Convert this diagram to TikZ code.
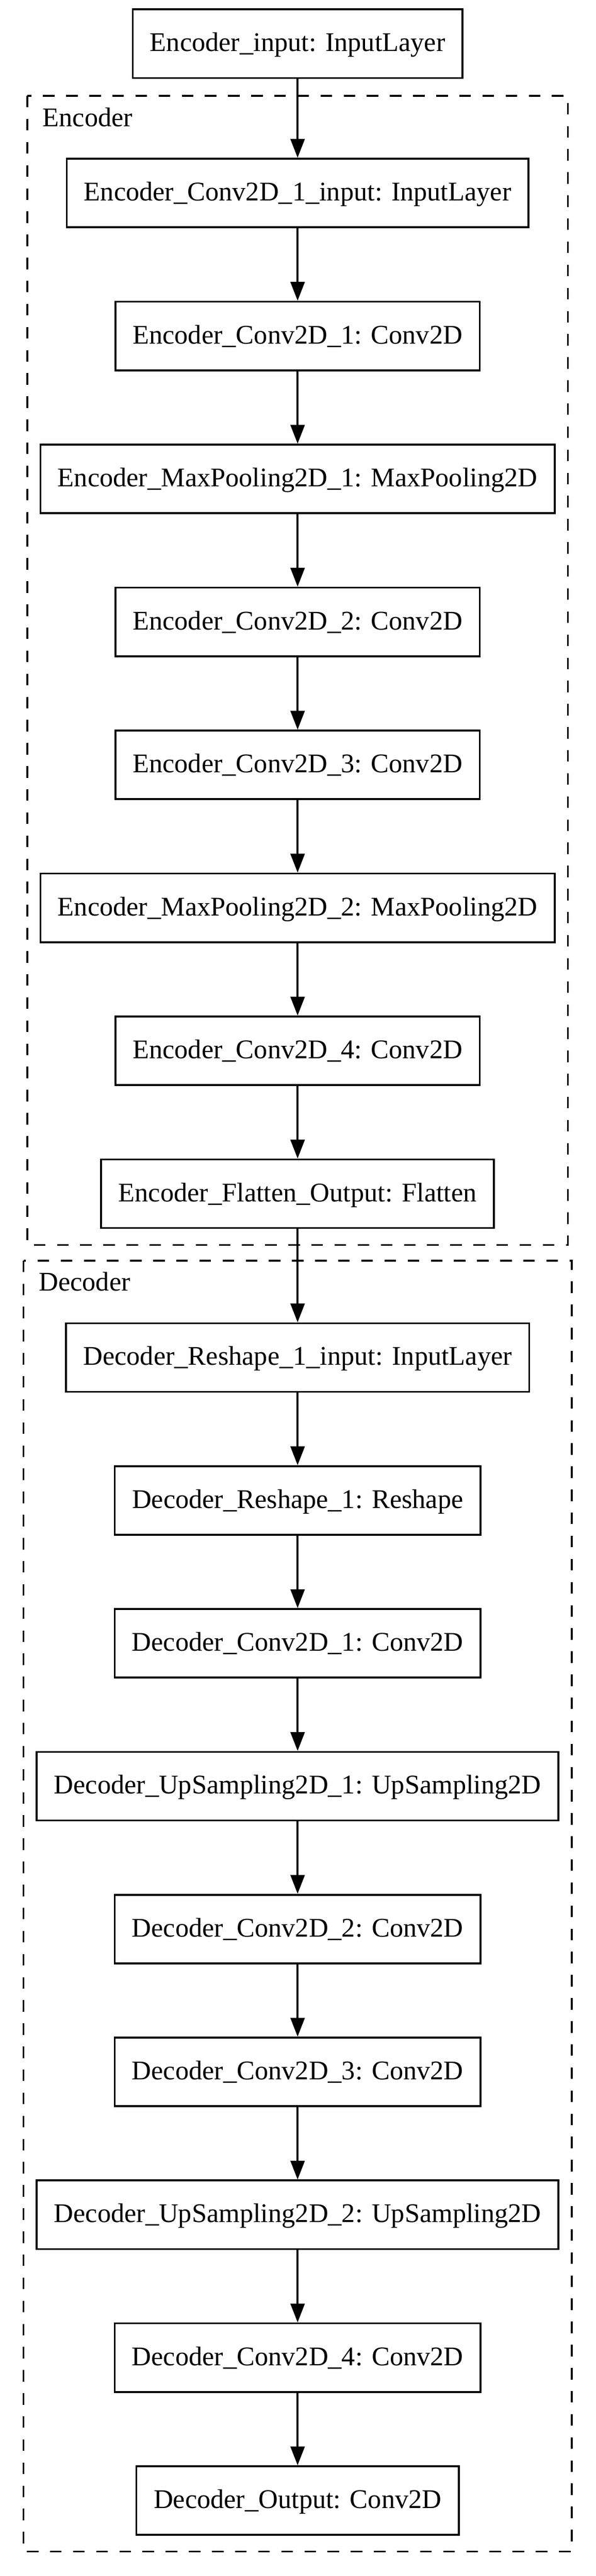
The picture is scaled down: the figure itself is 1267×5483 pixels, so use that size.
\documentclass[tikz,border=0pt]{standalone}
\usepackage{fontspec}
\setmainfont{Liberation Serif}
\usetikzlibrary{arrows.meta}
\tikzset{
  layerbox/.style={draw, line width=1pt, rectangle, minimum height=36.5pt,
    inner xsep=9.2pt, inner ysep=0pt, text height=11.2pt, text depth=3pt,
    font=\fontsize{14.35pt}{17pt}\selectfont},
  clusterbox/.style={draw, line width=1pt, dash pattern=on 6.15pt off 6.15pt},
  clusterlabel/.style={anchor=base west, inner sep=0pt,
    font=\fontsize{14.35pt}{17pt}\selectfont},
  flow/.style={line width=1pt, -{Triangle[length=10pt,width=7.5pt]}}
}
\begin{document}
\begin{tikzpicture}[x=0.25pt, y=-0.25pt]
\useasboundingbox (0,0) rectangle (1267,5483);
% clusters
\draw[clusterbox] (58,204) rectangle (1208,2650);
\node[clusterlabel] (enclabel) at (90,269) {Encoder};
\draw[clusterbox] (50,2683) rectangle (1216,5431);
\node[clusterlabel] (declabel) at (82,2747) {Decoder};
% nodes
\node[layerbox] (top) at (633,93) {Encoder\_input: InputLayer};
\foreach \i/\t in {
  0/Encoder\_Conv2D\_1\_input: InputLayer,
  1/Encoder\_Conv2D\_1: Conv2D,
  2/Encoder\_MaxPooling2D\_1: MaxPooling2D,
  3/Encoder\_Conv2D\_2: Conv2D,
  4/Encoder\_Conv2D\_3: Conv2D,
  5/Encoder\_MaxPooling2D\_2: MaxPooling2D,
  6/Encoder\_Conv2D\_4: Conv2D,
  7/Encoder\_Flatten\_Output: Flatten}
  \node[layerbox] (e\i) at (633,{410.8+304.3*\i}) {\t};
\foreach \i/\t in {
  0/Decoder\_Reshape\_1\_input: InputLayer,
  1/Decoder\_Reshape\_1: Reshape,
  2/Decoder\_Conv2D\_1: Conv2D,
  3/Decoder\_UpSampling2D\_1: UpSampling2D,
  4/Decoder\_Conv2D\_2: Conv2D,
  5/Decoder\_Conv2D\_3: Conv2D,
  6/Decoder\_UpSampling2D\_2: UpSampling2D,
  7/Decoder\_Conv2D\_4: Conv2D,
  8/Decoder\_Output: Conv2D}
  \node[layerbox] (d\i) at (633,{2889.5+304.1*\i}) {\t};
% edges
\draw[flow] (top) -- (e0);
\foreach \a/\b in {0/1,1/2,2/3,3/4,4/5,5/6,6/7}
  \draw[flow] (e\a) -- (e\b);
\draw[flow] (e7) -- (d0);
\foreach \a/\b in {0/1,1/2,2/3,3/4,4/5,5/6,6/7,7/8}
  \draw[flow] (d\a) -- (d\b);
\end{tikzpicture}
\end{document}
